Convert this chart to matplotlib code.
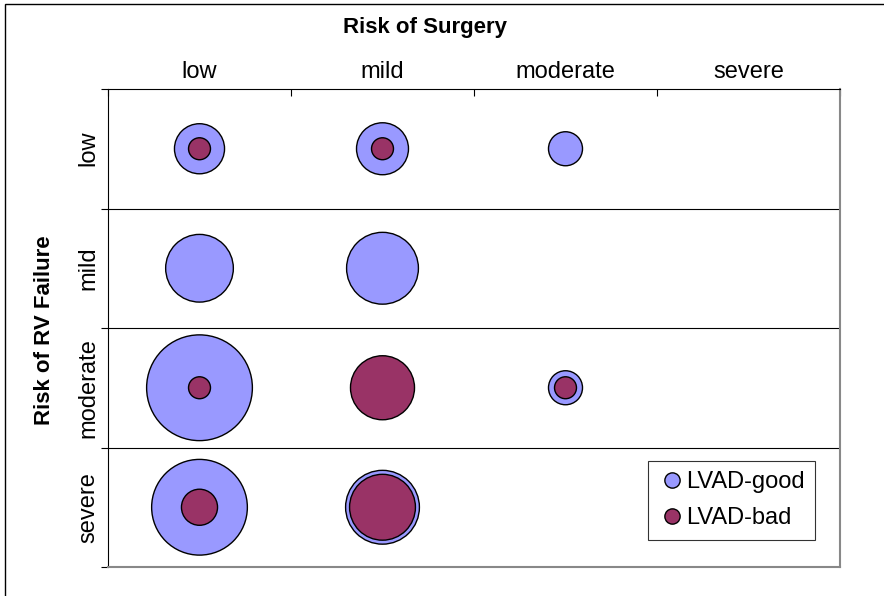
import matplotlib.pyplot as plt
from matplotlib.lines import Line2D
from matplotlib.patches import Rectangle

plt.rcParams['font.family'] = ['Liberation Sans', 'DejaVu Sans']

# categories
surgery = ["low", "mild", "moderate", "severe"]
rv_failure = ["low", "mild", "moderate", "severe"]

# bubbles: surgery index, rv index (1 based), size value
good_x = [1, 2, 3, 1, 2, 1, 3, 1, 2]
good_y = [1, 1, 1, 2, 2, 3, 3, 4, 4]
good_n = [5.2, 5.6, 2.4, 9.5, 10.7, 23.2, 2.4, 19.0, 11.3]

bad_x = [1, 2, 1, 2, 3, 1, 2]
bad_y = [1, 1, 3, 3, 3, 4, 4]
bad_n = [1.0, 1.0, 1.0, 8.5, 1.0, 2.7, 9.0]

good_col = '#9999FF'
bad_col = '#993366'
scale = 250.0
fs = 17

fig = plt.figure(figsize=(8.84, 5.96), dpi=100)
ax = fig.add_axes([108/884, 1-567/596, (840-108)/884, (567-89)/596])

ax.scatter(good_x, good_y, s=[n*scale for n in good_n], color=good_col,
           edgecolor='black', linewidth=1.0, zorder=3)
ax.scatter(bad_x, bad_y, s=[n*scale for n in bad_n], color=bad_col,
           edgecolor='black', linewidth=1.0, zorder=4)

ax.set_xlim(0.5, 4.5)
ax.set_ylim(4.5, 0.5)

for yy in [1.5, 2.5, 3.5]:
    ax.axhline(yy, color='black', lw=0.8, zorder=1)

ax.xaxis.tick_top()
ax.set_xticks([1, 2, 3, 4])
ax.set_xticklabels(surgery, fontsize=fs)
ax.set_xticks([0.5, 1.5, 2.5, 3.5, 4.5], minor=True)
ax.tick_params(axis='x', which='major', length=0, pad=4)
ax.tick_params(axis='x', which='minor', direction='in', length=5, width=0.8)

ax.set_yticks([1, 2, 3, 4])
ax.set_yticklabels(rv_failure, fontsize=fs, rotation=90, va='center')
ax.set_yticks([0.5, 1.5, 2.5, 3.5, 4.5], minor=True)
ax.tick_params(axis='y', which='major', length=0, pad=6)
ax.tick_params(axis='y', which='minor', direction='out', length=5, width=0.8)

ax.spines['left'].set_color('black')
ax.spines['top'].set_color('black')
ax.spines['right'].set_color('#888888')
ax.spines['bottom'].set_color('#888888')
ax.spines['right'].set_linewidth(1.5)
ax.spines['bottom'].set_linewidth(1.5)

fig.text(425/884, 1-27/596, "Risk of Surgery", fontsize=16, fontweight='bold',
         ha='center', va='center')
fig.text(45/884, 1-330/596, "Risk of RV Failure", fontsize=16, fontweight='bold',
         ha='center', va='center', rotation=90)

handles = [Line2D([], [], marker='o', ls='', markersize=11, markerfacecolor=good_col,
                  markeredgecolor='black', label='LVAD-good'),
           Line2D([], [], marker='o', ls='', markersize=11, markerfacecolor=bad_col,
                  markeredgecolor='black', label='LVAD-bad')]
leg = ax.legend(handles=handles, loc='lower right', bbox_to_anchor=(815/884, 1-540/596),
                bbox_transform=fig.transFigure, fontsize=fs, frameon=True, fancybox=False,
                handletextpad=0.05, labelspacing=0.6, borderpad=0.45, handlelength=1.1,
                borderaxespad=0)
leg.get_frame().set_edgecolor('black')
leg.get_frame().set_linewidth(0.8)

fig.add_artist(Rectangle((5/884, -0.1), 1.2, 1.1 - 4/596, transform=fig.transFigure,
                         fill=False, edgecolor='black', lw=1.0))

fig.savefig('out.png', dpi=100)
